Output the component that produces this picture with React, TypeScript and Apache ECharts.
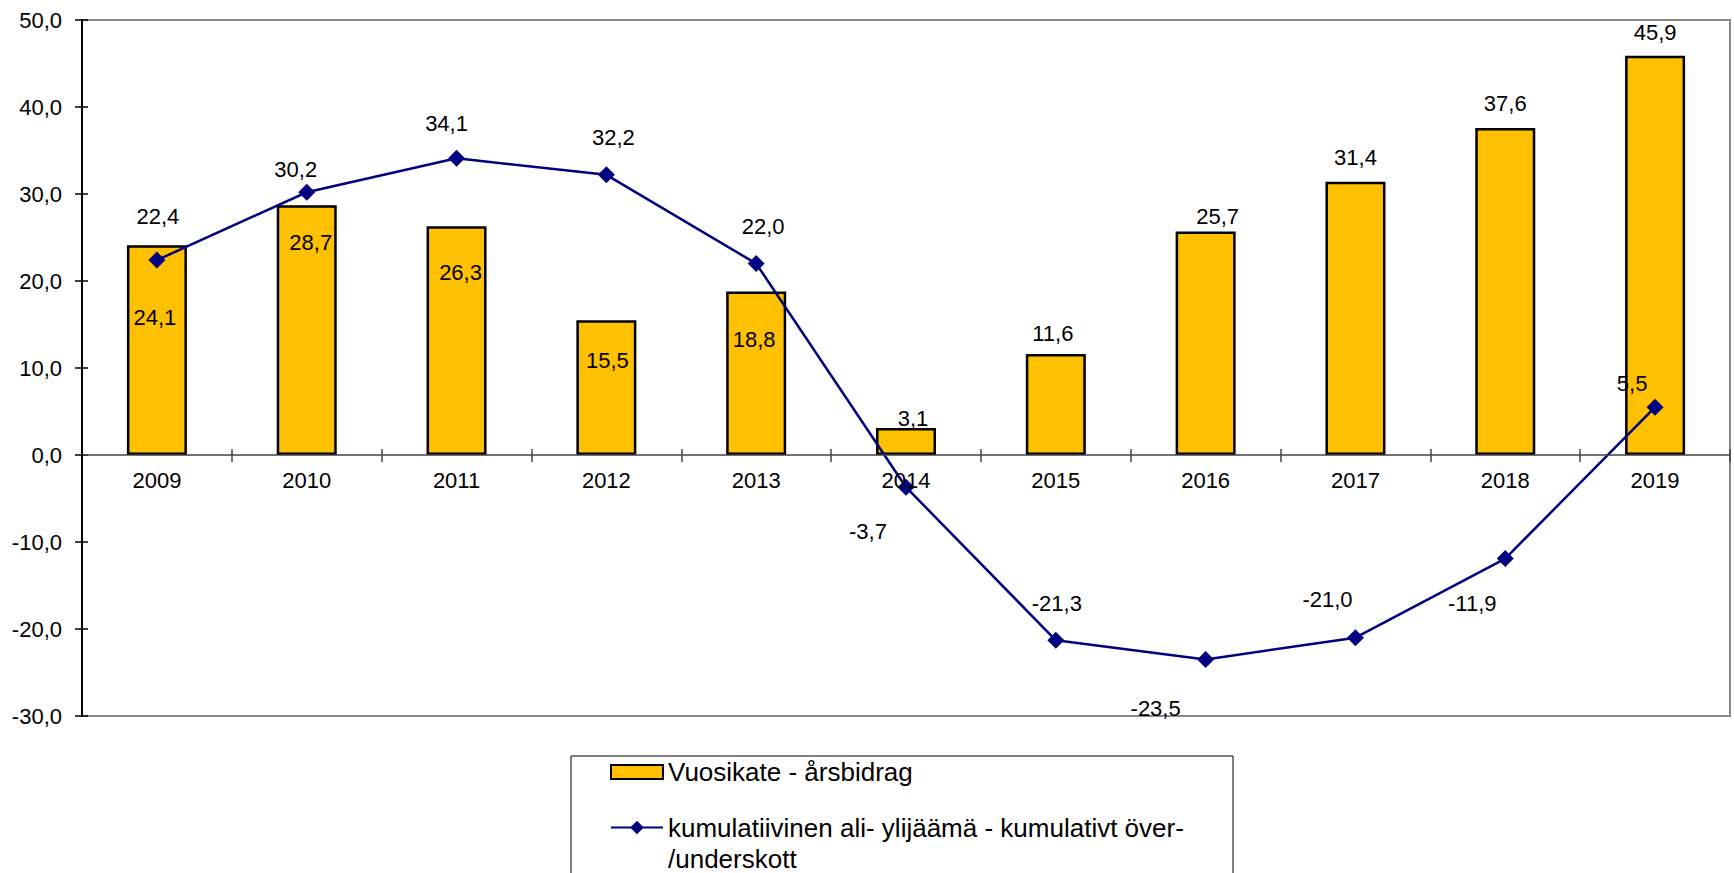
import React, { useEffect, useRef } from "react";
import * as echarts from "echarts";

const categories = ["2009", "2010", "2011", "2012", "2013", "2014", "2015", "2016", "2017", "2018", "2019"];
const vuosikate = [24.1, 28.7, 26.3, 15.5, 18.8, 3.1, 11.6, 25.7, 31.4, 37.6, 45.9];
const kumulatiivinen = [22.4, 30.2, 34.1, 32.2, 22.0, -3.7, -21.3, -23.5, -21.0, -11.9, 5.5];
const yMin = -30;
const yMax = 50;
const yInterval = 10;

const barName = "Vuosikate - årsbidrag";
const lineName = "kumulatiivinen ali- ylijäämä - kumulativt över-/underskott";

// label placement (style only)
const barLabelOffsets = [
  [-2, 84], [4, 49], [4, 58], [1, 52], [-2, 60], [7, 2], [-3, -9], [12, -3], [0, -12], [0, -12], [0, -11],
];
const lineLabelOffsets = [
  [1, -44], [-11, -23], [-10, -35], [7, -37], [7, -37], [-38, 44], [1, -37], [-50, 49], [-28, -38], [-33, 45], [-23, -24],
];

const FONT = "'Liberation Sans', Arial, Helvetica, sans-serif";
const fmt = (v: number) => v.toFixed(1).replace(".", ",");

export default function App() {
  const ref = useRef<HTMLDivElement>(null);
  useEffect(() => {
    if (!ref.current) return;
    const chart = echarts.init(ref.current, null, { renderer: "svg" });
    const option = {
      animation: false,
      backgroundColor: "#fff",
      textStyle: { fontFamily: FONT },
      grid: {
        left: 82,
        right: 4,
        top: 20,
        bottom: 157,
        show: true,
        borderColor: "#888",
        borderWidth: 2,
        backgroundColor: "transparent",
      },
      xAxis: [
        {
          type: "category",
          data: categories,
          position: "bottom",
          axisLine: { onZero: true, onZeroAxisIndex: 0, lineStyle: { color: "#444", width: 1.5 } },
          axisTick: { show: true, length: 7, inside: false, lineStyle: { color: "#444", width: 1.5 } },
          axisLabel: { fontSize: 22, color: "#000", margin: -247, fontFamily: FONT },
          splitLine: { show: false },
          z: 5,
        },
        {
          type: "category",
          data: categories,
          position: "bottom",
          axisLine: { show: false, onZero: true, onZeroAxisIndex: 0 },
          axisTick: { show: true, length: 6, inside: true, lineStyle: { color: "#444", width: 1.5 } },
          axisLabel: { show: false },
          splitLine: { show: false },
        },
      ],
      yAxis: [
        {
          type: "value",
          position: "left",
          min: yMin,
          max: yMax,
          interval: yInterval,
          axisLine: { show: true, lineStyle: { color: "#000", width: 2 } },
          axisTick: { show: true, length: 7, inside: false, lineStyle: { color: "#000", width: 1.5 } },
          axisLabel: { fontSize: 22, color: "#000", margin: 20, fontFamily: FONT, formatter: (v: number) => fmt(v) },
          splitLine: { show: false },
          z: 6,
        },
        {
          type: "value",
          position: "left",
          min: yMin,
          max: yMax,
          interval: yInterval,
          axisLine: { show: false },
          axisTick: { show: true, length: 6, inside: true, lineStyle: { color: "#000", width: 1.5 } },
          axisLabel: { show: false },
          splitLine: { show: false },
        },
      ],
      legend: [
        {
          data: [{ name: barName, icon: "rect" }],
          orient: "vertical",
          left: 610,
          top: 757,
          padding: 0,
          itemWidth: 52,
          itemHeight: 14,
          textStyle: { fontSize: 26, lineHeight: 30, color: "#000", fontFamily: FONT },
        },
        {
          data: [{ name: lineName }],
          orient: "vertical",
          left: 610,
          top: 781,
          padding: 0,
          itemWidth: 52,
          itemHeight: 17,
          formatter: (name: string) => "\n" + name.replace("över-/", "över-\n/"),
          textStyle: { fontSize: 26, lineHeight: 31, color: "#000", fontFamily: FONT },
        },
      ],
      graphic: [
        {
          type: "rect",
          shape: { x: 571, y: 756, width: 662, height: 200 },
          style: { fill: "none", stroke: "#000", lineWidth: 1 },
          z: 0,
        },
      ],
      series: [
        {
          name: barName,
          type: "bar",
          xAxisIndex: 0,
          yAxisIndex: 0,
          barWidth: 60,
          itemStyle: { color: "#FFC000", borderColor: "#000", borderWidth: 2.5 },
          label: {
            show: true,
            position: "top",
            distance: 0,
            fontSize: 22,
            lineHeight: 24,
            color: "#000",
            fontFamily: FONT,
            formatter: (p: any) => fmt(p.value),
          },
          data: vuosikate.map((v, i) => ({ value: v, label: { offset: barLabelOffsets[i] } })),
          z: 2,
        },
        {
          name: lineName,
          type: "line",
          xAxisIndex: 0,
          yAxisIndex: 0,
          symbol: "diamond",
          symbolSize: 17,
          lineStyle: { color: "#000080", width: 2.5 },
          itemStyle: { color: "#000080" },
          label: {
            show: true,
            position: "inside",
            fontSize: 22,
            lineHeight: 24,
            color: "#000",
            fontFamily: FONT,
            formatter: (p: any) => fmt(p.value),
          },
          data: kumulatiivinen.map((v, i) => ({ value: v, label: { offset: lineLabelOffsets[i] } })),
          z: 3,
        },
      ],
    };
    chart.setOption(option as any);
    return () => chart.dispose();
  }, []);
  return (
    <div
      ref={ref}
      style={{ position: "absolute", left: 0, top: 0, width: 1734, height: 873, background: "#fff" }}
    />
  );
}
